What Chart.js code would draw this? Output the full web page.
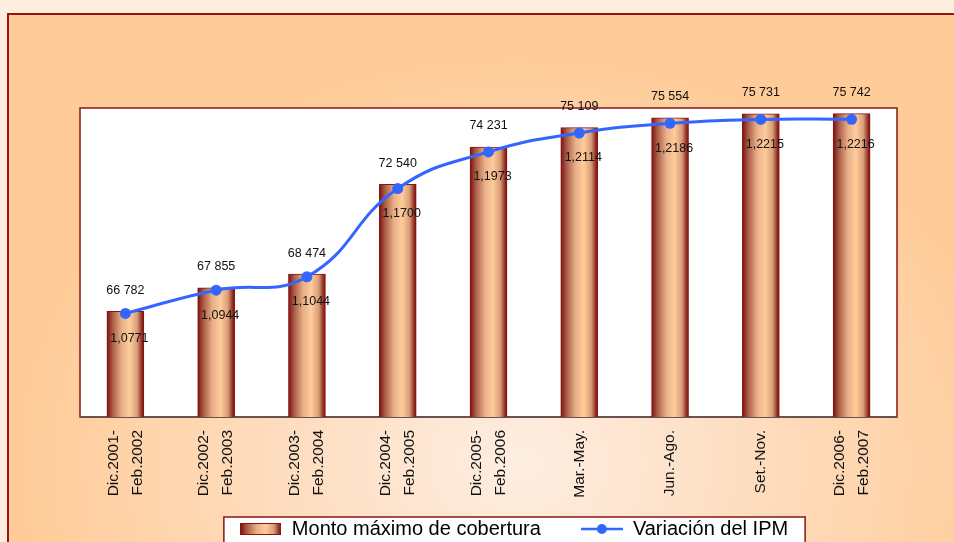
<!DOCTYPE html>
<html lang="es">
<head>
<meta charset="UTF-8">
<title>Monto máximo de cobertura y Variación del IPM</title>
<script src="https://cdn.jsdelivr.net/npm/chart.js"></script>
<style>
  html, body { margin: 0; padding: 0; width: 954px; height: 542px; overflow: hidden; background: #fdeedd; }
  .marco {
    position: absolute; left: 7px; top: 13px; width: 980px; height: 560px;
    border: 2px solid #9b1313;
    background: radial-gradient(ellipse 60% 85% at 52% 80%, #fdeee2 0%, #fedbbb 45%, #ffcc99 85%);
  }
  canvas { position: absolute; left: 0; top: 0; }
</style>
</head>
<body>
<div class="marco"></div>
<canvas id="grafico" width="954" height="542"></canvas>

<script>
// datos
const periodos = [
  ['Dic.2001-', 'Feb.2002'], ['Dic.2002-', 'Feb.2003'], ['Dic.2003-', 'Feb.2004'],
  ['Dic.2004-', 'Feb.2005'], ['Dic.2005-', 'Feb.2006'], 'Mar.-May.', 'Jun.-Ago.',
  'Set.-Nov.', ['Dic.2006-', 'Feb.2007']
];
const montoMaximo = [66782, 67855, 68474, 72540, 74231, 75109, 75554, 75731, 75742];
const variacionIPM = [1.0771, 1.0944, 1.1044, 1.1700, 1.1973, 1.2114, 1.2186, 1.2215, 1.2216];

const AZUL = '#3366ff';
const ROJO = '#8b1414';
const ANCHO_BARRA = 37;
const INTERLINEA = 24;

function degradado(ctx, x0, x1) {
  const g = ctx.createLinearGradient(x0, 0, x1, 0);
  g.addColorStop(0, '#7a0f0f');
  g.addColorStop(0.15, '#a85a44');
  g.addColorStop(0.4, '#e8b088');
  g.addColorStop(0.62, '#ffcc9a');
  g.addColorStop(0.82, '#d89c78');
  g.addColorStop(0.95, '#8c2a1c');
  g.addColorStop(1, '#7a0f0f');
  return g;
}

// simbolos de la leyenda
function simboloBarra() {
  const c = document.createElement('canvas');
  c.width = 41; c.height = 12;
  const x = c.getContext('2d');
  x.fillStyle = degradado(x, 0, 41);
  x.fillRect(0, 0, 41, 12);
  x.strokeStyle = ROJO;
  x.strokeRect(0.5, 0.5, 40, 11);
  return c;
}
function simboloLinea() {
  const c = document.createElement('canvas');
  c.width = 42; c.height = 12;
  const x = c.getContext('2d');
  x.strokeStyle = AZUL; x.lineWidth = 2.5;
  x.beginPath(); x.moveTo(0, 6); x.lineTo(42, 6); x.stroke();
  x.fillStyle = AZUL;
  x.beginPath(); x.arc(21, 6, 5, 0, Math.PI * 2); x.fill();
  return c;
}

const fmtMonto = v => String(v).replace(/\B(?=(\d{3})+(?!\d))/g, ' ');
const fmtIPM = v => v.toFixed(4).replace('.', ',');

const marco = {
  id: 'marco',
  afterLayout(chart) {
    // leyenda centrada bajo el grafico, como en el original
    const lg = chart.legend;
    const op = lg.options.labels;
    const dx = 514 - (lg.left + lg.right) / 2;
    const dy = 529 - (lg.top + op.padding + op.font.size / 2);
    lg.left += dx; lg.right += dx;
    lg.top += dy; lg.bottom += dy;
  },
  beforeDraw(chart) {
    const { ctx, chartArea: a } = chart;
    ctx.save();
    ctx.fillStyle = '#ffffff';
    ctx.fillRect(a.left, a.top, a.right - a.left, a.bottom - a.top);
    ctx.strokeStyle = ROJO;
    ctx.lineWidth = 1.5;
    ctx.strokeRect(a.left, a.top, a.right - a.left, a.bottom - a.top);
    ctx.strokeStyle = '#555555';
    ctx.beginPath(); ctx.moveTo(a.left, a.bottom); ctx.lineTo(a.right, a.bottom); ctx.stroke();

    const hb = chart.legend.legendHitBoxes;
    if (hb && hb.length) {
      const l = hb[0].left - 16;
      const r = hb[hb.length - 1].left + hb[hb.length - 1].width + 17;
      ctx.fillStyle = '#ffffff';
      ctx.fillRect(l, 517, r - l, 40);
      ctx.strokeStyle = ROJO;
      ctx.lineWidth = 1.5;
      ctx.strokeRect(l, 517, r - l, 40);
    }
    ctx.restore();
  },
  afterDatasetsDraw(chart) {
    const { ctx } = chart;
    ctx.save();
    ctx.fillStyle = '#111111';
    ctx.font = '12.5px Arial, "Liberation Sans", sans-serif';
    ctx.textAlign = 'center';
    ctx.textBaseline = 'middle';
    chart.getDatasetMeta(0).data.forEach((el, i) => {
      ctx.fillText(fmtMonto(montoMaximo[i]), el.x, el.y - 21);
    });
    chart.getDatasetMeta(1).data.forEach((el, i) => {
      ctx.fillText(fmtIPM(variacionIPM[i]), el.x + 4, el.y + 25);
    });
    ctx.restore();
  }
};

const iconoBarra = simboloBarra();
const iconoLinea = simboloLinea();

const fuenteEje = { family: '"Liberation Sans Narrow", "Arial Narrow", sans-serif', size: 15.5, lineHeight: INTERLINEA + 'px' };

new Chart(document.getElementById('grafico'), {
  data: {
    labels: periodos,
    datasets: [
      {
        type: 'bar',
        label: 'Monto máximo de cobertura',
        data: montoMaximo,
        yAxisID: 'y',
        order: 2,
        barThickness: ANCHO_BARRA,
        borderColor: ROJO,
        borderWidth: 1,
        backgroundColor: c => {
          const x = c.chart.scales.x;
          if (!x || c.dataIndex === undefined) return '#f0b080';
          const cx = x.getPixelForValue(c.dataIndex);
          return degradado(c.chart.ctx, cx - ANCHO_BARRA / 2, cx + ANCHO_BARRA / 2);
        }
      },
      {
        type: 'line',
        label: 'Variación del IPM',
        data: variacionIPM,
        yAxisID: 'y1',
        order: 1,
        borderColor: AZUL,
        backgroundColor: AZUL,
        borderWidth: 3,
        pointRadius: 5.5,
        pointBackgroundColor: AZUL,
        pointBorderWidth: 0,
        tension: 0.45
      }
    ]
  },
  options: {
    responsive: false,
    animation: false,
    devicePixelRatio: 1,
    layout: { padding: { left: 80, right: 57, top: 108, bottom: -55 } },
    plugins: {
      tooltip: { enabled: false },
      legend: {
        position: 'bottom',
        labels: {
          usePointStyle: true,
          pointStyleWidth: 42,
          padding: 40,
          color: '#111111',
          font: { family: 'Arial, "Liberation Sans", sans-serif', size: 20 },
          generateLabels: () => [
            { text: 'Monto máximo de cobertura', pointStyle: iconoBarra, fillStyle: 'transparent', strokeStyle: 'transparent', lineWidth: 0, datasetIndex: 0 },
            { text: 'Variación del IPM', pointStyle: iconoLinea, fillStyle: 'transparent', strokeStyle: 'transparent', lineWidth: 0, datasetIndex: 1 }
          ]
        }
      }
    },
    scales: {
      // etiquetas de dos lineas, centradas en la barra
      x: {
        grid: { display: false },
        border: { display: false },
        ticks: {
          minRotation: 90,
          maxRotation: 90,
          autoSkip: false,
          padding: 5,
          labelOffset: -INTERLINEA / 2,
          color: '#111111',
          font: fuenteEje,
          callback: (v, i) => Array.isArray(periodos[i]) ? periodos[i] : ''
        },
        afterFit: s => { s.height = 110; }
      },
      // etiquetas de una linea
      x2: {
        type: 'category',
        position: { y: 62000 },
        offset: true,
        grid: { display: false },
        border: { display: false },
        ticks: {
          minRotation: 90,
          maxRotation: 90,
          autoSkip: false,
          padding: 5,
          color: '#111111',
          font: fuenteEje,
          callback: (v, i) => Array.isArray(periodos[i]) ? '' : periodos[i]
        }
      },
      y: { display: false, min: 62000, max: 76000 },
      y1: { display: false, min: 1.0, max: 1.23 }
    }
  },
  plugins: [marco]
});
</script>
</body>
</html>
